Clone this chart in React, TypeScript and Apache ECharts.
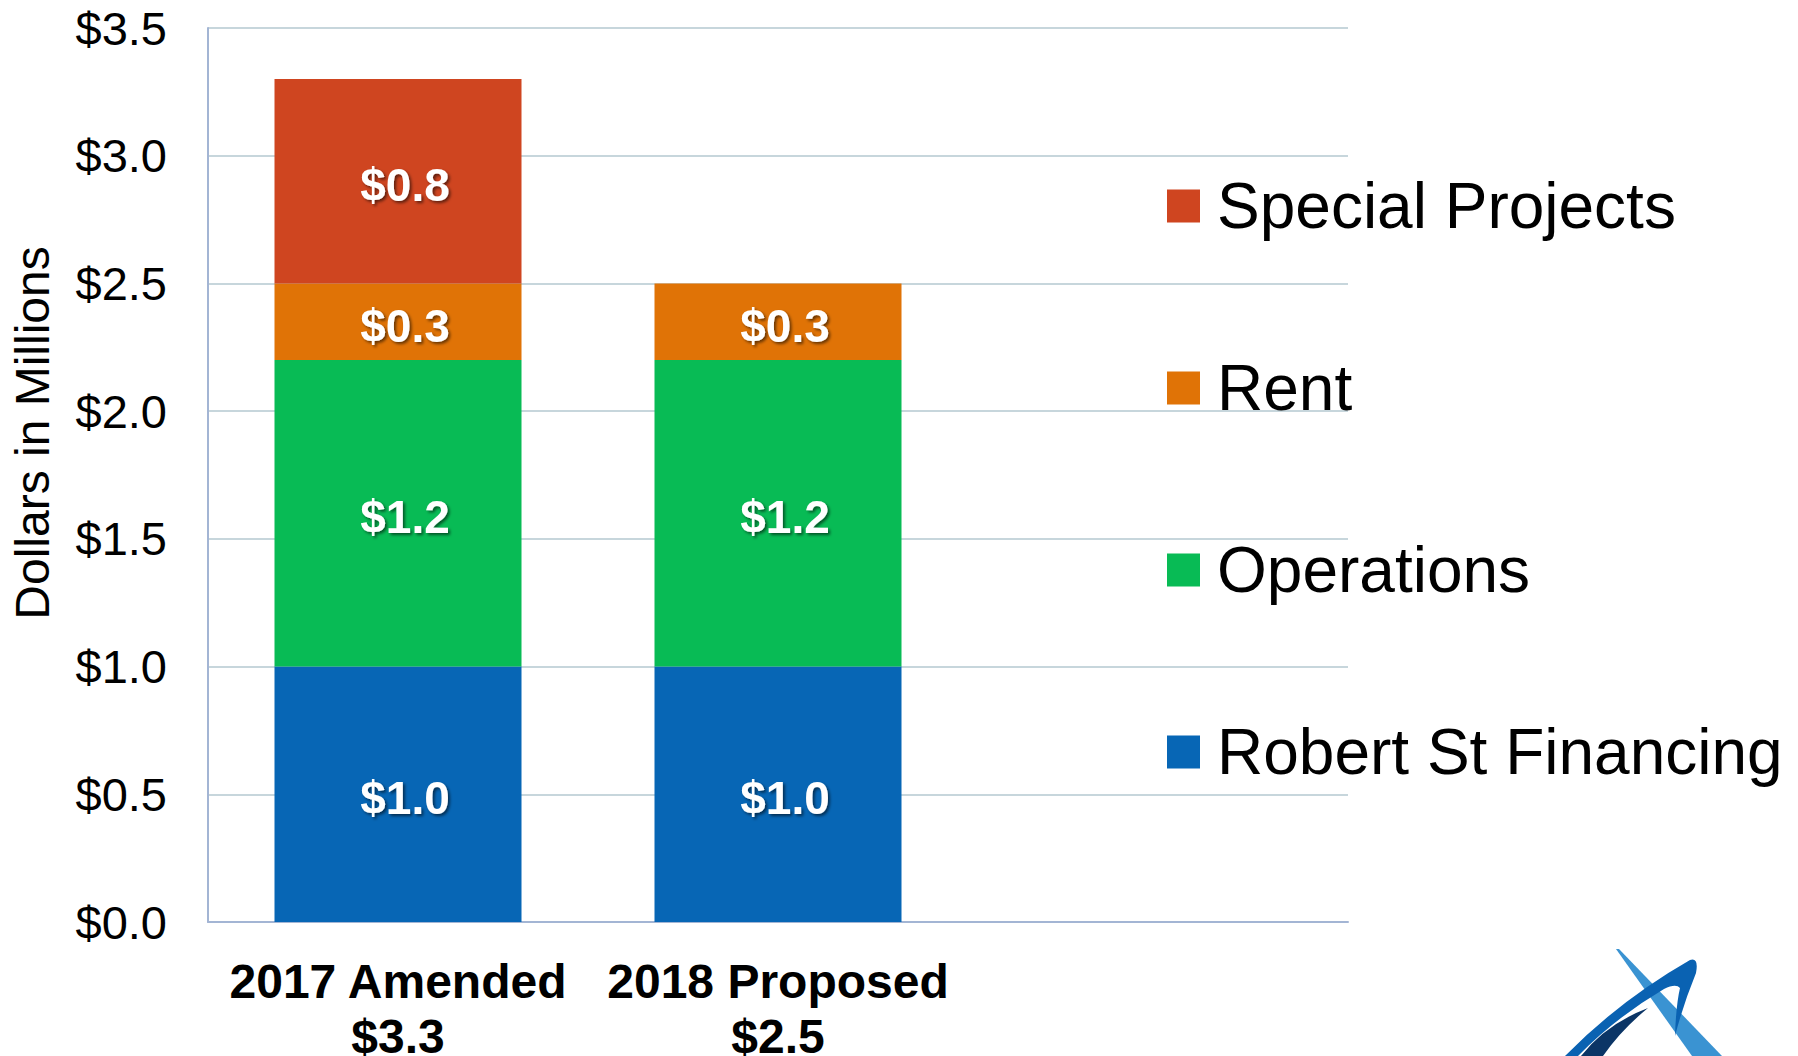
import React, { useEffect, useRef } from "react";
import * as echarts from "echarts";

const categories = ["2017 Amended", "2018 Proposed", ""];
const robertStFinancing = [1.0, 1.0, null];
const operations = [1.2, 1.2, null];
const rent = [0.3, 0.3, null];
const specialProjects = [0.8, null, null];
const legendOrder = ["Special Projects", "Rent", "Operations", "Robert St Financing"];
const Y_MIN = 0;
const Y_MAX = 3.5;
const Y_INTERVAL = 0.5;

const COLORS = {
  robert: "#0766B5",
  ops: "#08BB55",
  rent: "#E07306",
  special: "#CF4520",
};

const FONT = "'Liberation Sans', Arial, sans-serif";

const bladePath = "M1616,949 L1619,949 L1722,1056 L1692,1056 Z";
const arcPath =
  "M1565,1056 Q1620,1000 1690,960 Q1699,957 1696,973 Q1683,1005 1675,1036 Q1676,1005 1680,988 Q1676,983 1664,989 Q1615,1018 1578,1056 Z";
const navyPath = "M1581,1056 Q1606,1024 1648,1008 Q1621,1030 1603,1056 Z";

let registered = false;
function registerLogo() {
  if (registered) return;
  registered = true;
  echarts.graphic.registerShape("logoBlade", echarts.graphic.extendPath(bladePath, {}));
  echarts.graphic.registerShape("logoArc", echarts.graphic.extendPath(arcPath, {}));
  echarts.graphic.registerShape("logoNavy", echarts.graphic.extendPath(navyPath, {}));
}

const totals = categories.map((_, i) => {
  const s =
    (robertStFinancing[i] || 0) +
    (operations[i] || 0) +
    (rent[i] || 0) +
    (specialProjects[i] || 0);
  return s;
});

export default function App() {
  const ref = useRef<HTMLDivElement>(null);

  useEffect(() => {
    document.body.style.margin = "0";
    registerLogo();
    const chart = echarts.init(ref.current!, null, { renderer: "svg" });

    const barLabel = {
      show: true,
      position: "inside",
      offset: [7, 4],
      color: "#ffffff",
      fontFamily: FONT,
      fontWeight: "bold",
      fontSize: 46,
      textShadowColor: "rgba(0,0,0,0.55)",
      textShadowBlur: 3,
      textShadowOffsetX: 2,
      textShadowOffsetY: 2,
      formatter: (p: any) => "$" + Number(p.value).toFixed(1),
    };

    const mk = (name: string, data: any[], color: string) => ({
      name,
      type: "bar",
      stack: "total",
      data,
      barWidth: "65%",
      itemStyle: { color },
      label: barLabel,
      emphasis: { disabled: true },
    });

    chart.setOption({
      animation: false,
      backgroundColor: "#ffffff",
      grid: {
        left: 208,
        right: 450,
        top: 28,
        bottom: 134,
        containLabel: false,
        outerBoundsMode: "none",
      },
      legend: {
        orient: "vertical",
        left: 1162,
        top: 169,
        itemWidth: 33,
        itemHeight: 33,
        itemGap: 118,
        icon: "rect",
        selectedMode: false,
        data: legendOrder,
        textStyle: {
          fontFamily: FONT,
          fontSize: 64,
          color: "#000000",
          padding: [0, 0, 0, 12],
        },
      },
      xAxis: {
        type: "category",
        data: categories,
        axisLine: { show: true, lineStyle: { color: "#A3B5D4", width: 2 } },
        axisTick: { show: false },
        axisLabel: {
          interval: 0,
          margin: 32,
          fontFamily: FONT,
          fontWeight: "bold",
          fontSize: 48,
          lineHeight: 55,
          color: "#000000",
          formatter: (v: string, i: number) =>
            v ? v + "\n$" + totals[i].toFixed(1) : "",
        },
      },
      yAxis: {
        type: "value",
        min: Y_MIN,
        max: Y_MAX,
        interval: Y_INTERVAL,
        axisLine: { show: true, lineStyle: { color: "#A3B5D4", width: 2 } },
        axisTick: { show: false },
        splitLine: { show: true, lineStyle: { color: "#C7D6DC", width: 2 } },
        axisLabel: {
          margin: 41,
          fontFamily: FONT,
          fontSize: 47,
          color: "#000000",
          formatter: (v: number) => "$" + v.toFixed(1),
        },
      },
      graphic: [
        {
          type: "text",
          x: 32,
          y: 433,
          rotation: Math.PI / 2,
          style: {
            text: "Dollars in Millions",
            fontFamily: FONT,
            fontSize: 48,
            fill: "#000000",
            textAlign: "center",
            textVerticalAlign: "middle",
          },
        },
        { type: "logoBlade", x: 0, y: 0, style: { fill: "#3A93D2" } },
        { type: "logoArc", x: 0, y: 0, style: { fill: "#0A62B2" } },
        { type: "logoNavy", x: 0, y: 0, style: { fill: "#0B3566" } },
      ],
      series: [
        mk("Robert St Financing", robertStFinancing, COLORS.robert),
        mk("Operations", operations, COLORS.ops),
        mk("Rent", rent, COLORS.rent),
        mk("Special Projects", specialProjects, COLORS.special),
      ],
    });

    return () => chart.dispose();
  }, []);

  return <div ref={ref} style={{ width: 1798, height: 1056 }} />;
}
